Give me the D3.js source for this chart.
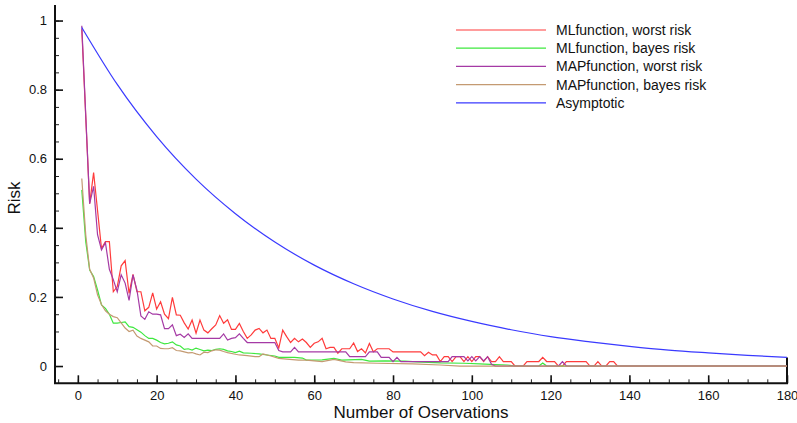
<!DOCTYPE html>
<html>
  <head>
    <script src="https://d3js.org/d3.v7.min.js"></script>
    <style>
      body { margin: 0; background: #fff; }
      text { font-family: "Liberation Sans", Arial, sans-serif; fill: #111; }
    </style>
  </head>
  <body>
    <script>

const mlWorst = [[1,0.975],[3,0.47],[4,0.56],[6,0.34],[7,0.36],[8,0.36],[9,0.215],[10,0.23],[11,0.29],[12,0.305],
  [13,0.21],[14,0.265],[15,0.215],[16,0.215],[17,0.16],[18,0.17],[19,0.212],[20,0.165],[21,0.186],[22,0.15],
  [23,0.137],[24,0.199],[25,0.148],[26,0.147],[27,0.125],[28,0.107],[29,0.133],[30,0.095],[31,0.133],[32,0.104],
  [33,0.096],[34,0.108],[35,0.119],[36,0.146],[37,0.124],[38,0.134],[39,0.106],[40,0.106],[41,0.123],[42,0.1],
  [43,0.08],[44,0.09],[45,0.104],[46,0.109],[47,0.096],[48,0.104],[49,0.08],[50,0.08],[51,0.052],[52,0.104],
  [53,0.085],[54,0.068],[55,0.08],[56,0.07],[57,0.078],[58,0.068],[59,0.054],[60,0.066],[61,0.07],[62,0.08],
  [63,0.05],[64,0.054],[65,0.054],[66,0.037],[67,0.05],[69,0.05],[70,0.067],[71,0.042],[72,0.05],[73,0.038],
  [74,0.065],[75,0.041],[76,0.05],[79,0.05],[80,0.041],[87,0.041],[88,0.03],[89,0.04],[90,0.032],[91,0.032],
  [92,0.013],[93,0.027],[94,0.027],[95,0.013],[96,0.027],[97,0.027],[98,0.013],[99,0.027],[100,0.013],[101,0.027],
  [102,0.027],[103,0.013],[104,0.027],[105,0.013],[106,0.013],[107,0.027],[108,0.013],[110,0.013],[111,0],[113,0],
  [114,0.013],[117,0.013],[118,0.025],[119,0.013],[121,0.013],[122,0],[123,0],[124,0.013],[129,0.013],[130,0],
  [131,0],[132,0.013],[133,0],[134,0],[135,0.013],[136,0.013],[137,0],[180,0]];

const mlBayes = [[1,0.51],[2,0.36],[3,0.278],[4,0.259],[5,0.22],[6,0.177],[7,0.167],[8,0.15],[9,0.124],[10,0.124],
  [11,0.126],[12,0.128],[13,0.114],[14,0.112],[15,0.105],[16,0.098],[17,0.088],[18,0.08],[19,0.08],[20,0.075],
  [21,0.068],[22,0.064],[23,0.066],[24,0.07],[25,0.061],[26,0.058],[27,0.048],[28,0.05],[29,0.046],[30,0.052],
  [31,0.048],[32,0.044],[33,0.046],[34,0.045],[35,0.048],[36,0.05],[37,0.048],[38,0.044],[39,0.042],[40,0.039],
  [41,0.043],[42,0.038],[44,0.037],[46,0.035],[48,0.032],[50,0.029],[51,0.025],[55,0.025],[57,0.023],[58,0.017],
  [62,0.018],[65,0.022],[67,0.017],[72,0.019],[74,0.014],[78,0.015],[83,0.014],[86,0.012],[92,0.009],[98,0.008],
  [102,0.006],[106,0.004],[109,0.003],[111,0],[117,0],[118,0.009],[119,0],[180,0]];

const mapWorst = [[1,0.985],[3,0.47],[4,0.52],[5,0.38],[6,0.336],[7,0.357],[8,0.28],[9,0.25],[10,0.215],[11,0.264],
  [12,0.24],[13,0.19],[14,0.264],[15,0.22],[16,0.145],[17,0.135],[18,0.157],[19,0.15],[20,0.15],[21,0.148],
  [22,0.108],[23,0.108],[24,0.119],[25,0.088],[26,0.092],[27,0.083],[28,0.093],[29,0.08],[36,0.08],[37,0.093],
  [38,0.075],[39,0.08],[40,0.082],[41,0.093],[42,0.08],[43,0.068],[50,0.068],[51,0.045],[52,0.041],[54,0.041],
  [55,0.054],[56,0.041],[68,0.041],[69,0.027],[73,0.027],[74,0.041],[76,0.041],[77,0.025],[79,0.025],[80,0.0125],
  [81,0.025],[82,0.0125],[94,0.0125],[95,0.027],[98,0.027],[99,0.015],[100,0.027],[101,0.015],[102,0.027],
  [103,0.015],[104,0.027],[105,0.005],[106,0],[122,0],[123,0.0125],[124,0],[180,0]];

const mapBayes = [[1,0.543],[2,0.38],[3,0.28],[4,0.255],[5,0.206],[6,0.178],[7,0.16],[8,0.15],[9,0.143],[10,0.14],
  [11,0.125],[12,0.11],[13,0.1],[14,0.104],[15,0.087],[16,0.08],[17,0.075],[18,0.07],[19,0.058],[20,0.058],
  [21,0.051],[22,0.05],[23,0.05],[24,0.053],[25,0.045],[26,0.044],[27,0.041],[28,0.038],[29,0.039],[30,0.035],
  [31,0.032],[32,0.04],[33,0.039],[34,0.044],[35,0.047],[36,0.046],[37,0.042],[38,0.039],[40,0.034],[41,0.032],
  [43,0.03],[45,0.027],[46,0.027],[47,0.035],[49,0.029],[51,0.022],[53,0.02],[56,0.017],[58,0.017],[60,0.015],
  [62,0.0125],[65,0.019],[68,0.012],[70,0.01],[76,0.008],[85,0.006],[92,0.003],[97,0],[180,0]];

const asymptotic = [[1,0.98],[10,0.815],[20,0.664],[30,0.541],[40,0.441],[50,0.359],[60,0.292],[70,0.238],
  [80,0.194],[90,0.158],[100,0.129],[110,0.105],[120,0.085],[130,0.07],[140,0.057],[150,0.046],[160,0.038],
  [170,0.031],[180,0.025]];

const seriesNames = ["MLfunction, worst risk", "MLfunction, bayes risk", "MAPfunction, worst risk", "MAPfunction, bayes risk", "Asymptotic"];
const seriesColors = ["#ff3b3b", "#3ee83e", "#a53aa5", "#c49a72", "#3a3aff"];
const xTicks = [0, 20, 40, 60, 80, 100, 120, 140, 160, 180];
const yTicks = [0, 0.2, 0.4, 0.6, 0.8, 1];

const width = 797;
const height = 423;
const mLeft = 55, mRight = 787, mTop = 5, mBottom = 383.3;

const x = d3.scaleLinear().domain([-5.8, 180]).range([mLeft, mRight]);
const y = d3.scaleLinear().domain([-0.05, 1.045]).range([mBottom, mTop]);

const svg = d3.select("body").append("svg")
    .attr("width", width)
    .attr("height", height);

// minor ticks
svg.append("g")
    .attr("transform", `translate(0,${mBottom})`)
    .call(d3.axisBottom(x).tickValues(d3.range(-5, 181, 5)).tickSize(-4).tickFormat(""))
    .call(g => g.select(".domain").remove())
    .selectAll("line").attr("stroke", "#222");
svg.append("g")
    .attr("transform", `translate(${mLeft},0)`)
    .call(d3.axisLeft(y).tickValues(d3.range(0, 21).map(i => i * 0.05)).tickSize(-4).tickFormat(""))
    .call(g => g.select(".domain").remove())
    .selectAll("line").attr("stroke", "#222");

// major ticks
const xAxis = svg.append("g")
    .attr("transform", `translate(0,${mBottom})`)
    .call(d3.axisBottom(x).tickValues(xTicks).tickSize(-8).tickPadding(7).tickFormat(d3.format("d")));
const yAxis = svg.append("g")
    .attr("transform", `translate(${mLeft},0)`)
    .call(d3.axisLeft(y).tickValues(yTicks).tickSize(-8).tickPadding(8).tickFormat(d => d === 0 || d === 1 ? d : d3.format(".1f")(d)));

[xAxis, yAxis].forEach(g => {
  g.select(".domain").remove();
  g.selectAll("line").attr("stroke", "#111").attr("stroke-width", 1.6);
  g.selectAll("text").attr("font-size", 13).attr("fill", "#111")
    .attr("font-family", "'Liberation Sans', Arial, sans-serif");
});

// frame: left and bottom axis, short right edge below the last curve point
const lastY = y(asymptotic[asymptotic.length - 1][1]);
svg.append("path")
    .attr("d", `M${mLeft},${mTop}V${mBottom}H${mRight}V${lastY}`)
    .attr("fill", "none").attr("stroke", "#111").attr("stroke-width", 2);

const line = d3.line().x(d => x(d[0])).y(d => y(d[1]));
const smooth = d3.line().x(d => x(d[0])).y(d => y(d[1])).curve(d3.curveMonotoneX);

const all = [mlWorst, mlBayes, mapWorst, mapBayes];
all.forEach((s, i) => {
  svg.append("path")
      .attr("d", line(s))
      .attr("fill", "none")
      .attr("stroke", seriesColors[i])
      .attr("stroke-width", 1.2);
});
svg.append("path")
    .attr("d", smooth(asymptotic))
    .attr("fill", "none")
    .attr("stroke", seriesColors[4])
    .attr("stroke-width", 1.2);

// legend
const legend = svg.append("g");
seriesNames.forEach((name, i) => {
  const ly = 30 + i * 18.2;
  legend.append("line")
      .attr("x1", 456).attr("x2", 546).attr("y1", ly).attr("y2", ly)
      .attr("stroke", seriesColors[i]).attr("stroke-width", 1.2);
  legend.append("text")
      .attr("x", 556).attr("y", ly + 5)
      .attr("font-size", 14)
      .text(name);
});

svg.append("text")
    .attr("x", 421).attr("y", 418)
    .attr("text-anchor", "middle")
    .attr("font-size", 17)
    .text("Number of Oservations");

svg.append("text")
    .attr("transform", `translate(20,198) rotate(-90)`)
    .attr("text-anchor", "middle")
    .attr("font-size", 17)
    .text("Risk");

    </script>
  </body>
</html>
